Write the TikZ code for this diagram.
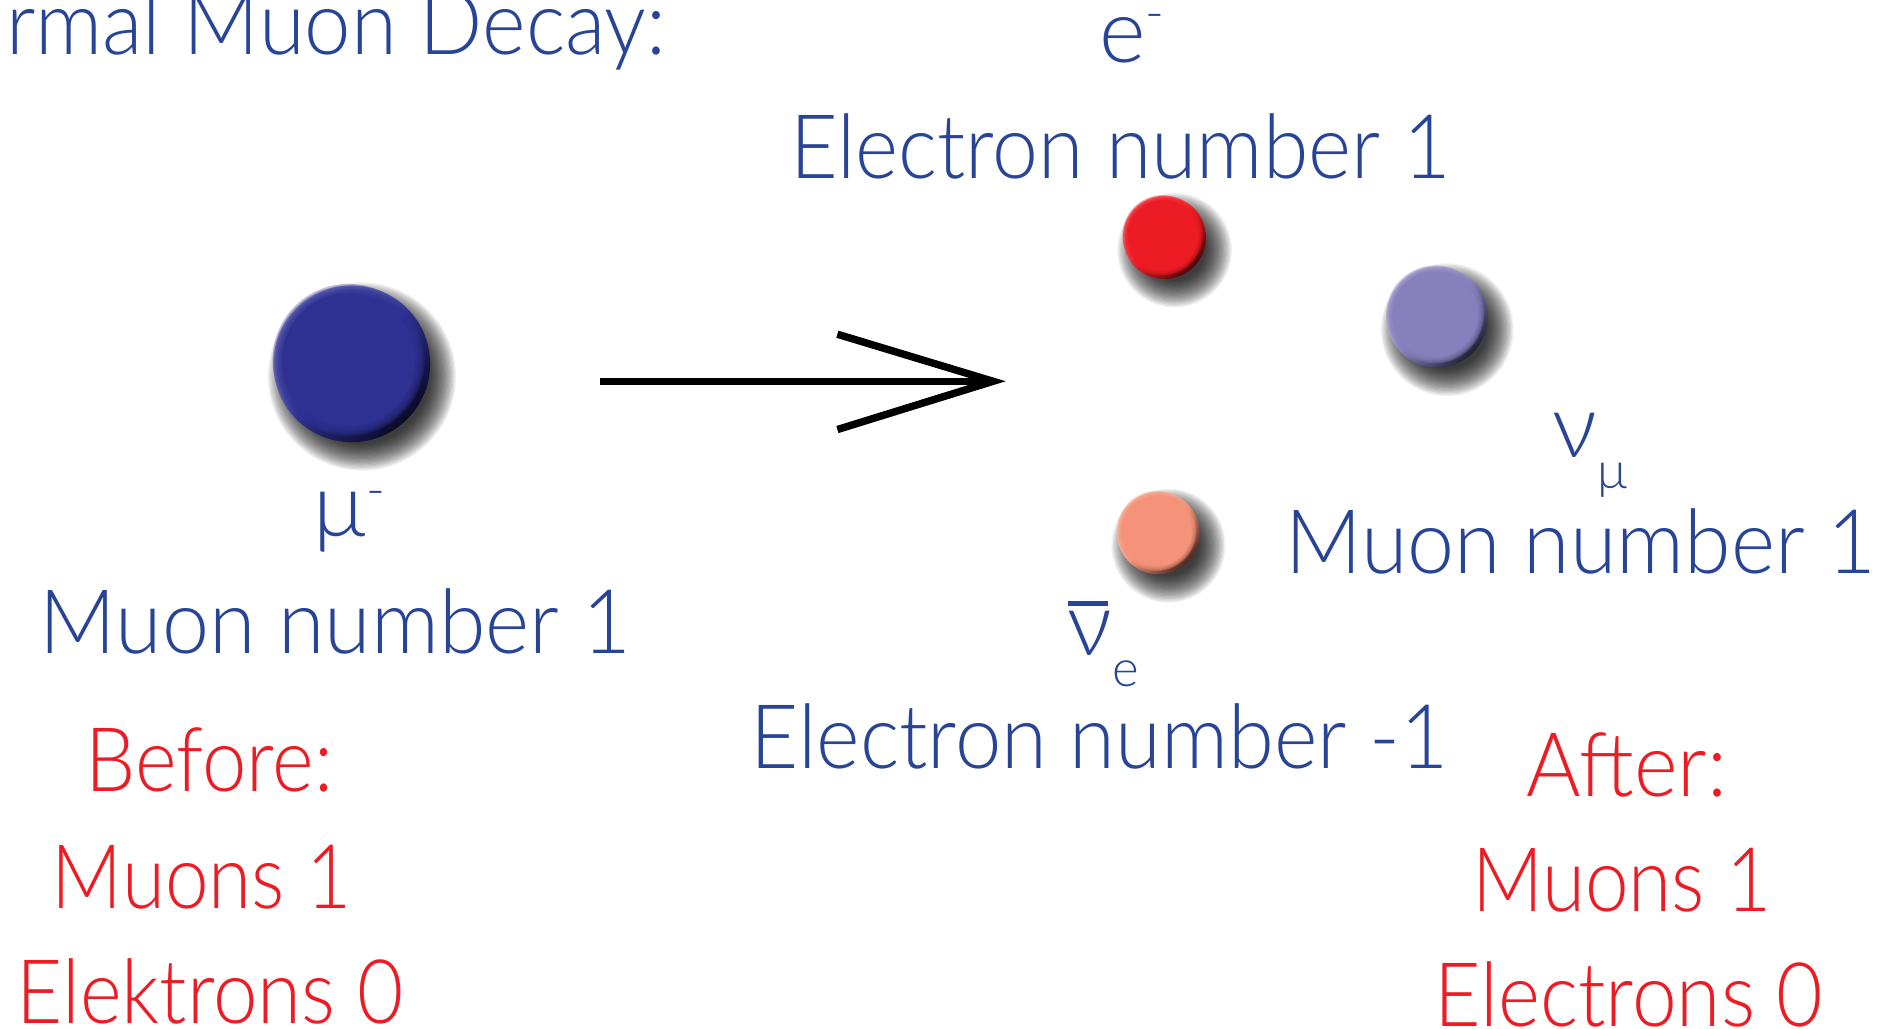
\documentclass[tikz,border=0pt]{standalone}
\usepackage{fontspec}
\setmainfont{Lato}[UprightFont={* Light}]
\usepackage{graphicx}
\definecolor{txtblue}{RGB}{40,68,150}
\definecolor{txtred}{RGB}{237,28,36}
\definecolor{bblue}{RGB}{46,49,146}
\definecolor{bblueL}{RGB}{160,162,215}
\definecolor{bblueD}{RGB}{10,10,40}
\definecolor{bred}{RGB}{237,28,36}
\definecolor{bredL}{RGB}{250,170,175}
\definecolor{bredD}{RGB}{80,5,8}
\definecolor{bpur}{RGB}{135,128,189}
\definecolor{bpurL}{RGB}{220,217,238}
\definecolor{bpurD}{RGB}{35,33,55}
\definecolor{bsal}{RGB}{244,147,122}
\definecolor{bsalL}{RGB}{253,222,212}
\definecolor{bsalD}{RGB}{80,40,30}

\newcommand\fitw[2]{\resizebox{#1}{\height}{#2}}

\tikzset{
 lbl/.style={anchor=base west, inner sep=0pt, outer sep=0pt, text=txtblue, font=\fontsize{21}{25}\selectfont},
 redlbl/.style={lbl, text=txtred},
 ballnode/.style={circle, inner sep=0pt, outer sep=0pt, draw=none},
 shadowlayer/.style={fill=black, opacity=0.06},
 arrowline/.style={line width=1.75pt, black, line join=miter},
}

\newcommand\Ball[4]{%
  \coordinate (#1-c) at (#2);
  \foreach \jj in {0,...,21} {%
    \fill[shadowlayer] ([xshift=2.4pt, yshift=-3pt]#1-c) circle [radius={#3cm-0.09cm+\jj*0.0105cm}];}
  \node[ballnode, minimum size={2*#3cm}, top color=#4L, bottom color=#4D, middle color=#4, shading angle=45] (#1) at (#1-c) {};
  \foreach \kk in {0.97,0.95,0.93,0.91,0.89,0.87} {%
    \fill[#4, opacity=0.3] ([xshift={-0.04*#3cm}, yshift={0.05*#3cm}]#1.center) circle [radius=\kk*#3cm];}
  \fill[#4] ([xshift={-0.04*#3cm}, yshift={0.05*#3cm}]#1.center) circle [radius=0.85*#3cm];
}

\begin{document}
\begin{tikzpicture}[x=0.01cm, y=-0.01cm]
\useasboundingbox (0,0) rectangle (1568,852);
\fill[white] (0,0) rectangle (1568,852);

% particles
\Ball{muball}{291.5,301.5}{0.649}{bblue}
\Ball{eball}{965,196.8}{0.344}{bred}
\Ball{numuball}{1191,262.7}{0.419}{bpur}
\Ball{nueball}{960,441.7}{0.342}{bsal}

% arrow
\coordinate (arrowstart) at (497,316);
\coordinate (arrowtip) at (823,316);
\coordinate (headup) at (694,277);
\coordinate (headdown) at (694,356);
\draw[arrowline] (arrowstart) -- (arrowtip);
\draw[arrowline] (headup) -- (arrowtip) -- (headdown);

% labels
\node[lbl] (title) at (5,45) {\fitw{5.47cm}{rmal Muon Decay:}};
\node[lbl] (eminus) at (911,52) {e\raisebox{7.5pt}{\fontsize{12}{12}\selectfont -}};
\node[lbl] (enum) at (655,148) {\fitw{5.47cm}{Electron number 1}};
\node[lbl] (mulbl) at (260,445) {μ\raisebox{7pt}{\fontsize{12}{12}\selectfont -}};
\node[lbl] (munum) at (33,542) {\fitw{4.90cm}{Muon number 1}};
\node[redlbl] (before) at (71,656) {\fitw{2.05cm}{Before:}};
\node[redlbl] (bmuons) at (43,753) {\fitw{2.48cm}{Muons 1}};
\node[redlbl] (belek) at (14,848) {\fitw{3.20cm}{Elektrons 0}};
\node[lbl] (numu) at (1287,379) {ν\raisebox{-7.4pt}{\fontsize{12}{12}\selectfont μ}};
\node[lbl] (munum2) at (1065,475) {\fitw{4.90cm}{Muon number 1}};
\node[lbl] (nuebar) at (885,543) {\makebox[0pt][l]{\raisebox{11.7pt}{\rule{9.4pt}{1.1pt}}}ν\raisebox{-7.3pt}{\fontsize{12}{12}\selectfont e}};
\node[lbl] (enum2) at (622,637) {\fitw{5.78cm}{Electron number -1}};
\node[redlbl] (after) at (1265,660) {\fitw{1.66cm}{After:}};
\node[redlbl] (amuons) at (1220,755) {\fitw{2.48cm}{Muons 1}};
\node[redlbl] (aelec) at (1189,851) {\fitw{3.22cm}{Electrons 0}};
\end{tikzpicture}
\end{document}
